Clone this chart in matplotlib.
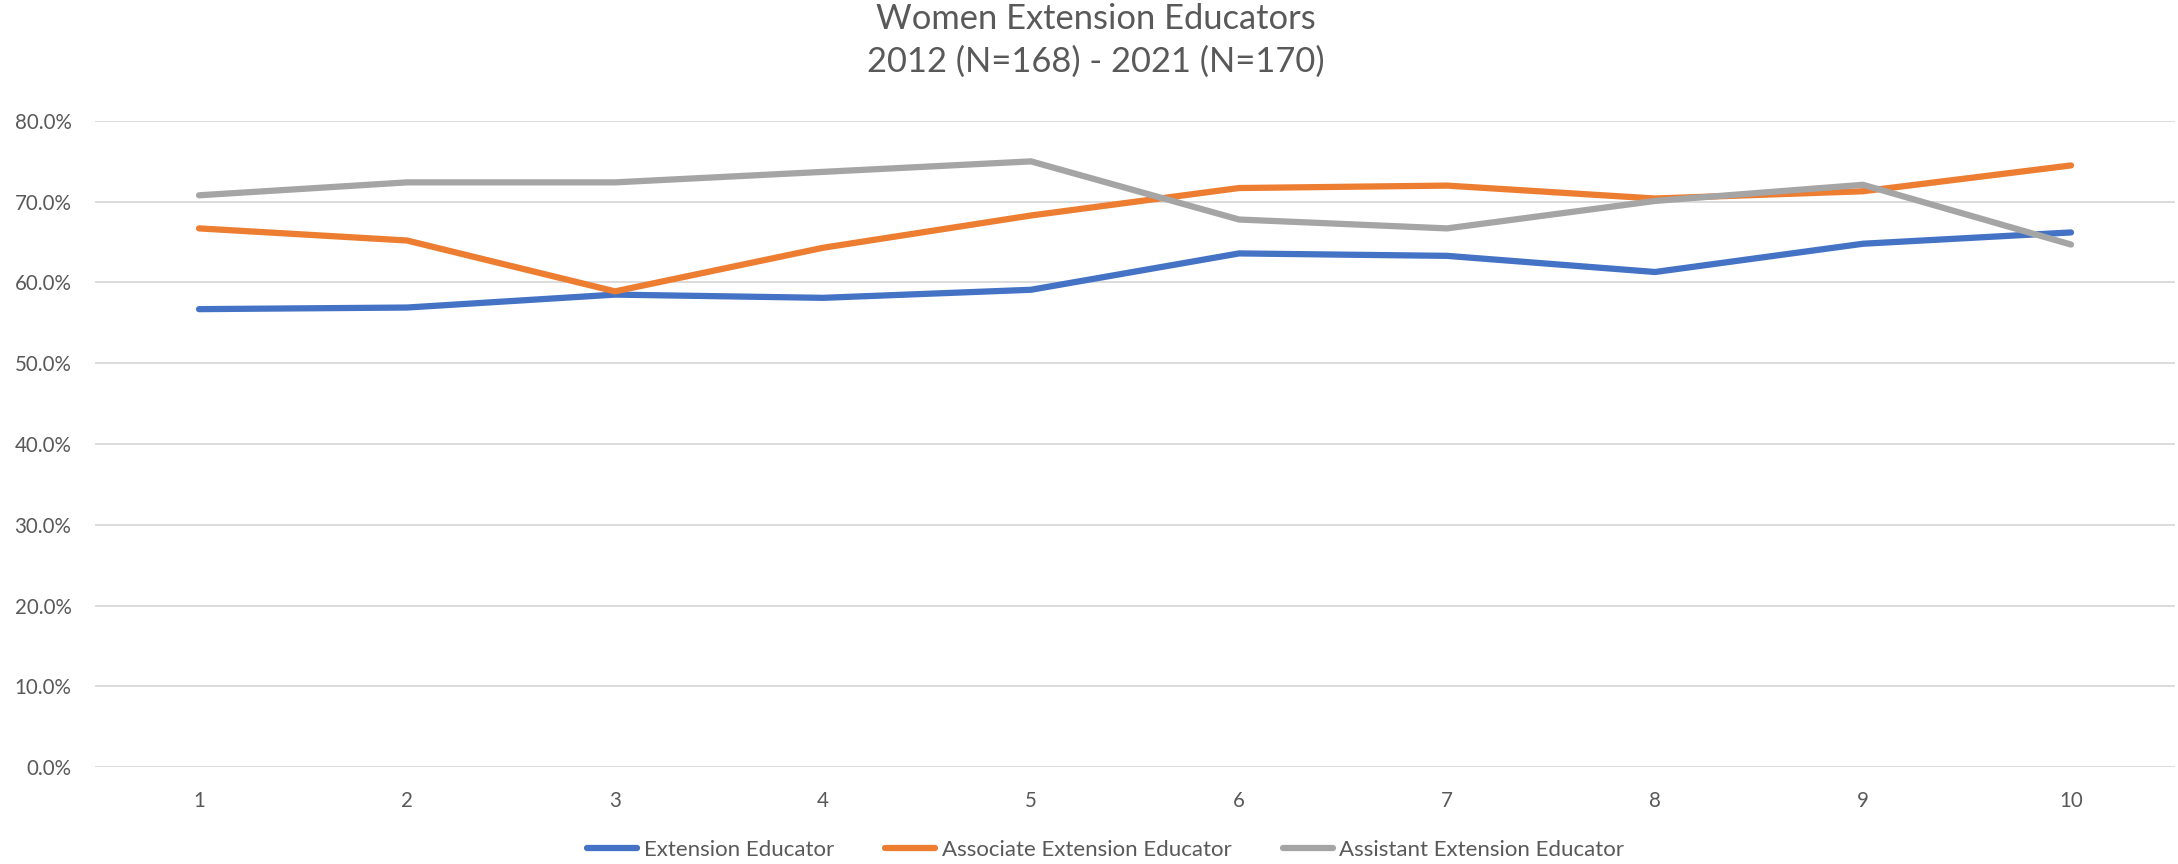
import matplotlib
matplotlib.use("Agg")
import matplotlib.pyplot as plt
from matplotlib.ticker import PercentFormatter

plt.rcParams["font.family"] = ["Lato", "DejaVu Sans"]

# survey rounds 1..10, share of women in each rank (%)
rounds = [1, 2, 3, 4, 5, 6, 7, 8, 9, 10]
extension = [56.7, 56.9, 58.5, 58.1, 59.1, 63.6, 63.3, 61.3, 64.8, 66.2]
associate = [66.7, 65.2, 58.9, 64.3, 68.3, 71.7, 72.0, 70.4, 71.3, 74.5]
assistant = [70.8, 72.4, 72.4, 73.7, 75.0, 67.8, 66.7, 70.1, 72.1, 64.7]

series = [
    ("Extension Educator", extension, "#4472C4"),
    ("Associate Extension Educator", associate, "#ED7D31"),
    ("Assistant Extension Educator", assistant, "#A5A5A5"),
]

TEXT = "#595959"
GRID = "#D9D9D9"

fig = plt.figure(figsize=(21.78, 8.64), dpi=100, facecolor="white")
ax = fig.add_axes([95 / 2178, 1 - 767 / 864, 2080 / 2178, (767 - 121) / 864])

for name, vals, col in series:
    ax.plot(rounds, vals, color=col, lw=4.5, solid_capstyle="round",
            solid_joinstyle="round", label=name, zorder=3)

ax.set_xlim(0.5, 10.5)
ax.set_ylim(0, 80)
ax.set_yticks(range(0, 81, 10))
ax.yaxis.set_major_formatter(PercentFormatter(decimals=1))
ax.set_xticks(rounds)
ax.grid(axis="y", color=GRID, lw=1.3, zorder=0)
ax.set_axisbelow(True)
for s in ax.spines.values():
    s.set_visible(False)
ax.tick_params(axis="both", length=0, labelsize=14.8, labelcolor=TEXT)
ax.tick_params(axis="y", pad=17)
ax.tick_params(axis="x", pad=17)

fig.text(0.503, 1 - 19 / 864, "Women Extension Educators", ha="center",
         va="center", fontsize=24.8, color=TEXT)
fig.text(0.503, 1 - 62 / 864, "2012 (N=168) - 2021 (N=170)", ha="center",
         va="center", fontsize=24.8, color=TEXT)

fig.legend(loc="center", bbox_to_anchor=(0.5077, 1 - 850 / 864), ncol=3,
           frameon=False, fontsize=16, labelcolor=TEXT, handlelength=2.25,
           handletextpad=0.3, columnspacing=2.3, borderaxespad=0)

fig.savefig("out.png", dpi=100, facecolor="white")
